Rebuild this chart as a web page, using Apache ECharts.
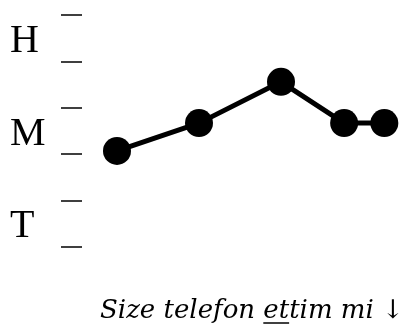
<!DOCTYPE html>
<html><head><meta charset="utf-8">
<script src="https://cdn.jsdelivr.net/npm/echarts@6/dist/echarts.min.js"></script>
<style>html,body{margin:0;padding:0;background:#fff}#c{width:406px;height:333px}</style>
</head><body><div id="c"></div>
<script>
// data
const xValues = [1, 2, 3, 3.77, 4.26];
const yValues = [2.07, 2.67, 3.56, 2.67, 2.67];
const levelLabels = ['T', 'M', 'H'];      // bottom to top
const levelPositions = [0.5, 2.5, 4.5];
const captionParts = ['Size telefon ', 'et', 'tim mi ↓'];

const chart = echarts.init(document.getElementById('c'), null, {renderer: 'canvas'});
const labelMap = {};
levelPositions.forEach((p, i) => labelMap[p.toFixed(1)] = levelLabels[i]);

const capFont = 'italic 26px "DejaVu Serif"';
const capLeft = 100, capTop = 298;
const mctx = document.createElement('canvas').getContext('2d');
mctx.font = capFont;
const w0 = mctx.measureText(captionParts[0]).width;
const w1 = mctx.measureText(captionParts[1]).width;

chart.setOption({
  animation: false,
  backgroundColor: '#fff',
  grid: {left: 76, right: 2, top: 15, bottom: 86},
  xAxis: {type: 'value', min: 0.5, max: 4.5, show: false},
  yAxis: [
    {
      type: 'value', min: 0, max: 5, interval: 1, position: 'left', offset: -6,
      axisLine: {show: false},
      axisTick: {show: true, length: 21, lineStyle: {color: '#000', width: 1.5}},
      axisLabel: {show: false},
      splitLine: {show: false}
    },
    {
      type: 'value', min: 0, max: 5, interval: 0.5, position: 'left', offset: 66,
      axisLine: {show: false},
      axisTick: {show: false},
      splitLine: {show: false},
      axisLabel: {
        show: true, margin: 0, color: '#000', align: 'left',
        fontFamily: 'Liberation Serif', fontSize: 40,
        verticalAlign: 'top', lineHeight: 6,
        formatter: v => labelMap[Number(v).toFixed(1)] || ''
      }
    }
  ],
  series: [{
    type: 'line',
    yAxisIndex: 0,
    data: xValues.map((x, i) => [x, yValues[i]]),
    symbol: 'circle', symbolSize: 28,
    clip: false,
    lineStyle: {color: '#000', width: 5},
    itemStyle: {color: '#000'}
  }],
  graphic: [
    {
      type: 'text', left: capLeft, top: capTop,
      style: {
        text: captionParts.join(''),
        font: capFont, fill: '#000'
      }
    },
    {
      type: 'line', shape: {x1: capLeft + w0, y1: 323, x2: capLeft + w0 + w1, y2: 323},
      style: {stroke: '#000', lineWidth: 1.5}
    }
  ]
});
</script></body></html>
